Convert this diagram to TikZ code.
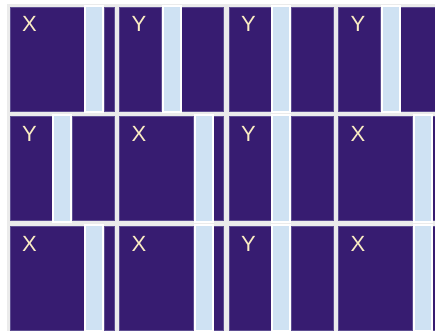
\documentclass[tikz,border=0pt]{standalone}
\usepackage{fontspec}
\setmainfont{Liberation Sans}
\definecolor{blk}{HTML}{371C71}
\definecolor{blkedge}{HTML}{5E4E92}
\definecolor{strp}{HTML}{CFE2F3}
\definecolor{bg}{HTML}{EBEBEB}
\definecolor{lbl}{HTML}{FBEDC3}
\tikzset{
  block/.style={fill=blk, draw=blkedge, line width=0.6pt},
  stripeouter/.style={fill=white},
  stripeinner/.style={fill=strp},
  lab/.style={text=lbl, font=\fontsize{22}{22}\selectfont, anchor=base, inner sep=0pt},
}
% #1 column, #2 row, #3 label, #4 width of first block
\newcommand\gcell[4]{%
  \pgfmathsetmacro\cx{10+109.5*#1}%
  \pgfmathsetmacro\cy{7+109.5*#2}%
  \pgfmathsetmacro\xa{\cx+#4}%
  \pgfmathsetmacro\xb{\cx+#4+20}%
  \pgfmathsetmacro\xe{\cx+104}%
  \pgfmathsetmacro\ye{\cy+104}%
  \draw[block] (\cx,\cy) rectangle (\xa,\ye);
  \draw[block] (\xb,\cy) rectangle (\xe,\ye);
  \fill[stripeouter] (\xa,\cy-2) rectangle (\xb,\ye+2);
  \fill[stripeinner] (\xa+2,\cy) rectangle (\xb-2,\ye);
  \node[lab] (lab#1#2) at (\cx+19.5,\cy+25) {#3};
}
\begin{document}
\begin{tikzpicture}[x=1pt,y=-1pt]
\useasboundingbox (0,0) rectangle (435,331);
\clip (0,0) rectangle (435,331);
\fill[white] (0,0) rectangle (435,331);
\fill[bg] (7,4) rectangle (435,331);
% row 1
\gcell{0}{0}{X}{74}
\gcell{1}{0}{Y}{42}
\gcell{2}{0}{Y}{42}
\gcell{3}{0}{Y}{42}
% row 2
\gcell{0}{1}{Y}{42}
\gcell{1}{1}{X}{74}
\gcell{2}{1}{Y}{42}
\gcell{3}{1}{X}{74}
% row 3
\gcell{0}{2}{X}{74}
\gcell{1}{2}{X}{74}
\gcell{2}{2}{Y}{42}
\gcell{3}{2}{X}{74}
\end{tikzpicture}
\end{document}
